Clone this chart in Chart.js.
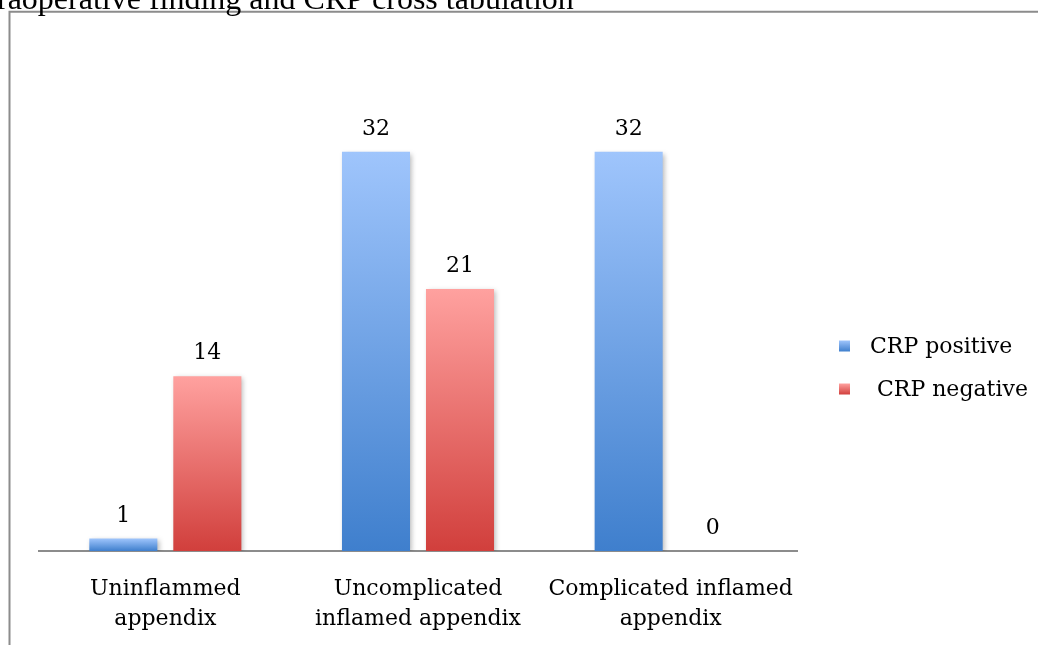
<!DOCTYPE html>
<html>
<head>
<meta charset="utf-8">
<script src="https://cdn.jsdelivr.net/npm/chart.js@4.4.0/dist/chart.umd.min.js"></script>
<style>
  html, body { margin: 0; padding: 0; background: #fff; overflow: hidden; }
  canvas { display: block; }
</style>
</head>
<body>
<canvas id="chart" width="1038" height="645"></canvas>
<script>
// Chart content
const chartTitle = 'Intraoperative finding and CRP cross tabulation';
const categories = [
  ['Uninflammed', 'appendix'],
  ['Uncomplicated', 'inflamed appendix'],
  ['Complicated inflamed', 'appendix']
];
const seriesNames = ['CRP positive', ' CRP negative'];
const crpPositive = [1, 32, 32];
const crpNegative = [14, 21, 0];

// Styling
const labelFamily = '"DejaVu Serif", serif';
const labelSize = 22;
const labelFont = labelSize + 'px ' + labelFamily;
const titleFont = '32px "Liberation Serif", "Times New Roman", serif';
const blueShades = ['#9fc5fc', '#3f7fcd'];
const redShades = ['#ffa19f', '#d13f3c'];
const frameColor = '#8c8c8c';

// Vertical gradient spanning each bar from its top to the baseline
function barGradient(shades) {
  return (ctx) => {
    const chart = ctx.chart;
    const yScale = chart.scales && chart.scales.y;
    if (!yScale || ctx.type !== 'data' || !chart.chartArea) return shades[1];
    const v = ctx.raw;
    const top = yScale.getPixelForValue(v);
    const base = yScale.getPixelForValue(0);
    if (!isFinite(top) || !isFinite(base) || Math.abs(base - top) < 0.5) return shades[1];
    const g = chart.ctx.createLinearGradient(0, top, 0, base);
    g.addColorStop(0, shades[0]);
    g.addColorStop(1, shades[1]);
    return g;
  };
}

// Outer frame and the title line above it
const framePlugin = {
  id: 'frame',
  beforeDraw(chart) {
    const ctx = chart.ctx;
    ctx.save();
    ctx.fillStyle = '#ffffff';
    ctx.fillRect(0, 0, chart.width, chart.height);
    ctx.strokeStyle = frameColor;
    ctx.lineWidth = 2;
    ctx.beginPath();
    ctx.moveTo(9.5, chart.height + 2);
    ctx.lineTo(9.5, 11.7);
    ctx.lineTo(chart.width + 2, 11.7);
    ctx.stroke();
    ctx.font = titleFont;
    ctx.fillStyle = '#000';
    ctx.textBaseline = 'alphabetic';
    ctx.textAlign = 'left';
    const lead = ctx.measureText('Int').width;
    ctx.fillText(chartTitle, -lead - 3, 9);
    ctx.restore();
  }
};

// Soft drop shadow under the bars
const shadowPlugin = {
  id: 'barShadow',
  beforeDatasetsDraw(chart) {
    const ctx = chart.ctx;
    ctx.save();
    ctx.shadowColor = 'rgba(0,0,0,0.28)';
    ctx.shadowBlur = 5;
    ctx.shadowOffsetX = 2;
    ctx.shadowOffsetY = 2;
  },
  afterDatasetsDraw(chart) {
    chart.ctx.restore();
  }
};

// Value printed above every bar
const valueLabels = {
  id: 'valueLabels',
  afterDatasetsDraw(chart) {
    const ctx = chart.ctx;
    ctx.save();
    ctx.font = labelFont;
    ctx.fillStyle = '#000';
    ctx.textAlign = 'center';
    ctx.textBaseline = 'alphabetic';
    chart.data.datasets.forEach((ds, i) => {
      chart.getDatasetMeta(i).data.forEach((bar, j) => {
        ctx.fillText(String(ds.data[j]), bar.x, bar.y - 17);
      });
    });
    ctx.restore();
  }
};

// Legend on the right: small gradient square + series name
const sideLegend = {
  id: 'sideLegend',
  afterDraw(chart) {
    const ctx = chart.ctx;
    const shadesList = [blueShades, redShades];
    const rows = [346, 389];
    ctx.save();
    ctx.font = labelFont;
    ctx.textBaseline = 'middle';
    ctx.textAlign = 'left';
    chart.data.datasets.forEach((ds, i) => {
      const cy = rows[i];
      const sx = 839, size = 11;
      const g = ctx.createLinearGradient(0, cy - size / 2, 0, cy + size / 2);
      g.addColorStop(0, shadesList[i][0]);
      g.addColorStop(1, shadesList[i][1]);
      ctx.fillStyle = g;
      ctx.fillRect(sx, cy - size / 2, size, size);
      ctx.fillStyle = '#000';
      ctx.fillText(ds.label, 870, cy + 1);
    });
    ctx.restore();
  }
};

new Chart(document.getElementById('chart'), {
  type: 'bar',
  data: {
    labels: categories,
    datasets: [
      { label: seriesNames[0], data: crpPositive, backgroundColor: barGradient(blueShades) },
      { label: seriesNames[1], data: crpNegative, backgroundColor: barGradient(redShades) }
    ]
  },
  options: {
    responsive: false,
    animation: false,
    devicePixelRatio: 1,
    categoryPercentage: 0.665,
    barPercentage: 0.81,
    layout: { padding: { left: 39, right: 241, top: 52, bottom: 0 } },
    plugins: {
      legend: { display: false },
      title: { display: false },
      tooltip: { enabled: false }
    },
    scales: {
      x: {
        grid: { display: false },
        border: { display: true, color: frameColor, width: 2 },
        ticks: {
          color: '#000',
          font: { family: labelFamily, size: labelSize, lineHeight: 30 / labelSize },
          padding: 15,
          maxRotation: 0,
          autoSkip: false
        },
        afterFit(scale) { scale.height = 94; }
      },
      y: {
        display: false,
        min: 0,
        max: 40
      }
    }
  },
  plugins: [framePlugin, shadowPlugin, valueLabels, sideLegend]
});
</script>
</body>
</html>
